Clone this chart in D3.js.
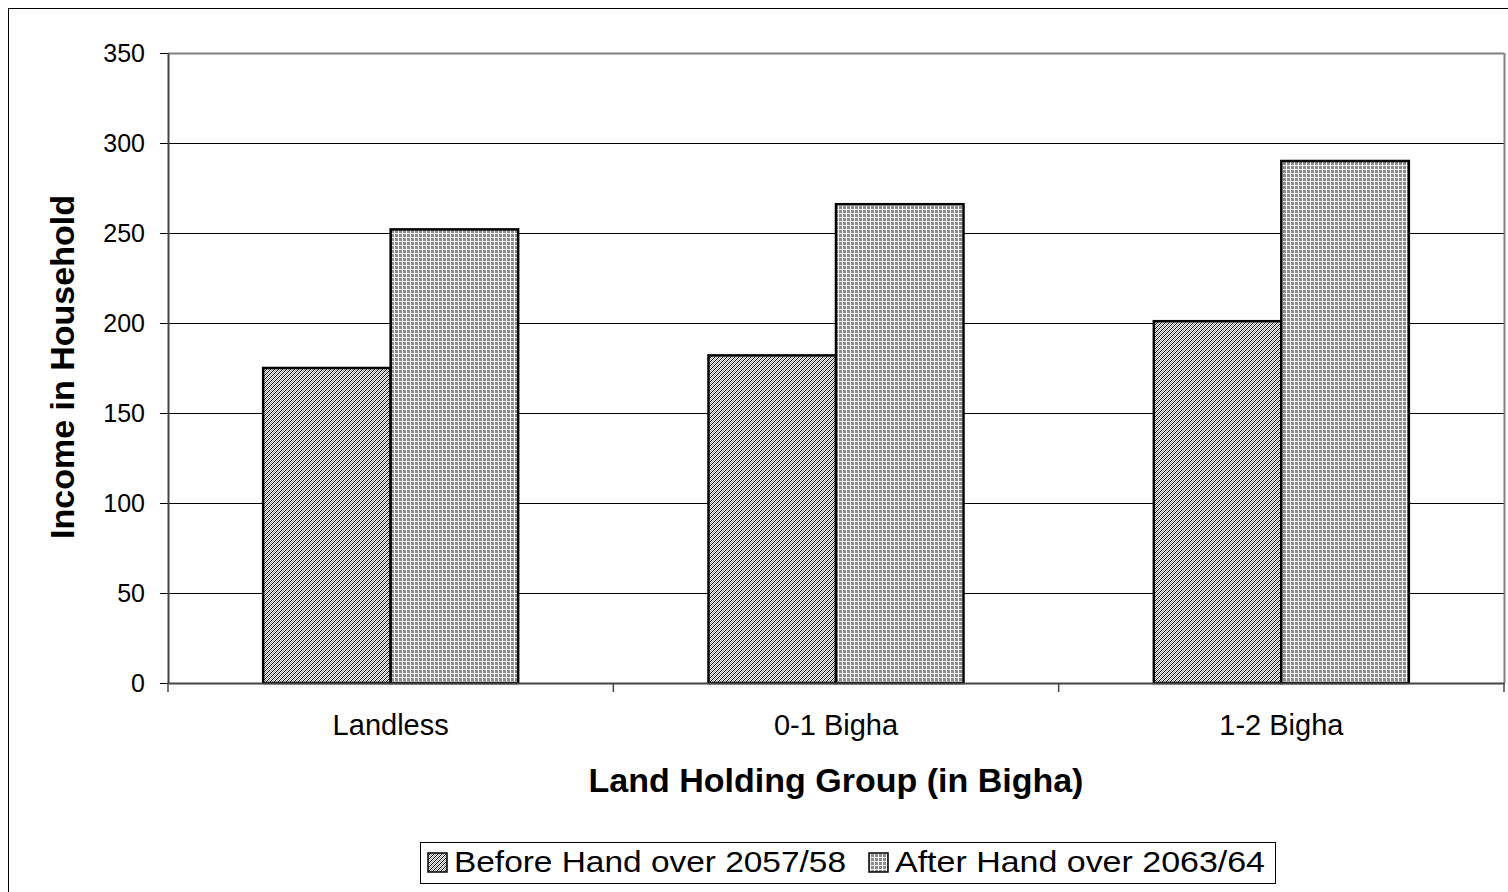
<!DOCTYPE html>
<html><head><meta charset="utf-8">
<script src="https://cdn.jsdelivr.net/npm/d3@7"></script>
<style>body{margin:0;background:#fff}svg{display:block}text{font-family:"Liberation Sans",Arial,sans-serif}</style>
</head><body><svg id="c" width="1508" height="892"></svg>
<script>
const categories = ["Landless", "0-1 Bigha", "1-2 Bigha"];
const seriesNames = ["Before Hand over 2057/58", "After Hand over 2063/64"];
const beforeValues = [175, 182, 201];
const afterValues = [252, 266, 290];
const yTicks = [0, 50, 100, 150, 200, 250, 300, 350];

const FONT = "'Liberation Sans',Arial,sans-serif";
const svg = d3.select("#c");
const defs = svg.append("defs");
// diagonal hatch
const p1 = defs.append("pattern").attr("id","pBefore").attr("patternUnits","userSpaceOnUse").attr("width",4).attr("height",4);
p1.append("rect").attr("width",4).attr("height",4).attr("fill","#fff");
[[3,0],[2,1],[1,2],[0,3]].forEach(([x,y])=>p1.append("rect").attr("x",x).attr("y",y).attr("width",1).attr("height",1).attr("fill","#000"));
[[1,0],[0,1],[3,2],[2,3]].forEach(([x,y])=>p1.append("rect").attr("x",x).attr("y",y).attr("width",1).attr("height",1).attr("fill","#999"));
// grid
const p2 = defs.append("pattern").attr("id","pAfter").attr("patternUnits","userSpaceOnUse").attr("width",4).attr("height",4);
p2.append("rect").attr("width",4).attr("height",4).attr("fill","#8c8c8c");
p2.append("rect").attr("x",0).attr("y",1).attr("width",4).attr("height",1).attr("fill","#eeeeee");
p2.append("rect").attr("x",2).attr("y",0).attr("width",1).attr("height",4).attr("fill","#ffffff");

// outer border
svg.append("rect").attr("x",8.5).attr("y",8.5).attr("width",1510).attr("height",900).attr("fill","none").attr("stroke","#000").attr("stroke-width",1);

const L=168, R=1504, T=53, B=683;
const x = d3.scaleBand().domain(categories).range([L,R]).paddingInner(0).paddingOuter(0);
const y = d3.scaleLinear().domain([0,350]).range([B,T]);
const barW = 127.5;

// gridlines
svg.append("g").selectAll("line").data(yTicks.filter(d=>d>0 && d<350)).join("line")
  .attr("x1",L).attr("x2",R).attr("y1",d=>Math.round(y(d))+0.5).attr("y2",d=>Math.round(y(d))+0.5)
  .attr("stroke","#000").attr("stroke-width",1);
// plot border top/right gray
svg.append("line").attr("x1",L).attr("x2",R).attr("y1",T+0.5).attr("y2",T+0.5).attr("stroke","#808080").attr("stroke-width",2);
svg.append("line").attr("x1",R+0.5).attr("x2",R+0.5).attr("y1",T).attr("y2",B).attr("stroke","#808080").attr("stroke-width",2);

// bars
const data = categories.map((c,i)=>({c, v:[beforeValues[i], afterValues[i]]}));
const g = svg.append("g");
data.forEach(d=>{
  const cx = x(d.c) + x.bandwidth()/2;
  d.v.forEach((v,j)=>{
    g.append("rect").attr("x", cx - barW + j*barW).attr("y", y(v)).attr("width", barW).attr("height", y(0)-y(v))
      .attr("fill", j===0?"url(#pBefore)":"url(#pAfter)").attr("stroke","#000").attr("stroke-width",2.5);
  });
});

// y axis
const ya = svg.append("g").attr("transform",`translate(${L},0)`)
  .call(d3.axisLeft(y).tickValues(yTicks).tickSize(8).tickPadding(15).tickSizeOuter(0));
ya.attr("font-size",25).attr("font-family",FONT);
ya.select(".domain").attr("stroke","#444").attr("stroke-width",2);
ya.selectAll(".tick line").attr("stroke","#000");
ya.selectAll("text").attr("fill","#000");

// x axis
const xa = svg.append("g").attr("transform",`translate(0,${B})`)
  .call(d3.axisBottom(x).tickSize(0).tickPadding(31).tickSizeOuter(0));
xa.attr("font-size",29).attr("font-family",FONT);
xa.select(".domain").attr("stroke","#444").attr("stroke-width",2);
xa.selectAll("text").attr("fill","#000");
svg.append("g").selectAll("line").data([L, x(categories[1]), x(categories[2]), R]).join("line")
  .attr("x1",d=>d).attr("x2",d=>d).attr("y1",B).attr("y2",B+9).attr("stroke","#444").attr("stroke-width",1.5);

// axis titles
svg.append("text").attr("x",836).attr("y",792).attr("text-anchor","middle").attr("font-size",34).attr("font-weight","bold").text("Land Holding Group (in Bigha)");
svg.append("text").attr("transform","translate(74,367) rotate(-90)").attr("text-anchor","middle").attr("font-size",34).attr("font-weight","bold").text("Income in Household");

// legend
const lg = svg.append("g");
lg.append("rect").attr("x",420.5).attr("y",842.5).attr("width",855).attr("height",41).attr("fill","#fff").attr("stroke","#000").attr("stroke-width",1);
const lx=[428, 869];
const tw=[392, 370];
seriesNames.forEach((s,i)=>{
  lg.append("rect").attr("x",lx[i]).attr("y",853).attr("width",19).attr("height",19)
    .attr("fill", i===0?"url(#pBefore)":"url(#pAfter)").attr("stroke","#000").attr("stroke-width",1.5);
  lg.append("text").attr("x",lx[i]+26).attr("y",872).attr("font-size",29)
    .attr("textLength",tw[i]).attr("lengthAdjust","spacingAndGlyphs").text(s);
});
</script></body></html>
